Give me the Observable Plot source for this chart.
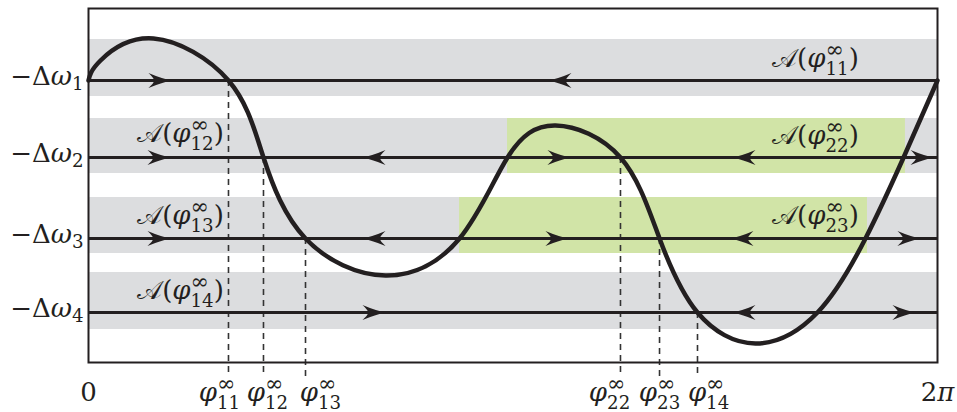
<!DOCTYPE html>
<html><head><meta charset="utf-8">
<script src="https://cdn.jsdelivr.net/npm/d3@7"></script>
<script src="https://cdn.jsdelivr.net/npm/@observablehq/plot@0.6"></script>
<style>
body{margin:0;background:#fff;}
svg text{font-family:"DejaVu Serif",serif;}
</style></head><body>
<div id="chart"></div>
<script>
const TAU = 2 * Math.PI;

// frequency levels (-Δω_k) and their axis labels
const levels = [2.82, 2.05, 1.24, 0.50];
const levelLabels = ["−Δω||1|", "−Δω||2|", "−Δω||3|", "−Δω||4|"];

// gray bands (basins) around each level
const bandLow = [2.66, 1.89, 1.09, 0.33];
const bandHigh = [3.23, 2.44, 1.65, 0.90];

// green bands (second basins)
const greenStart = [3.101, 2.746];
const greenEnd = [6.046, 5.765];
const greenLow = [1.89, 1.09];
const greenHigh = [2.44, 1.65];

// the coupling curve (extrema and level crossings)
const curvePhi = [0, 0.089, 0.481, 1.036, 1.295, 1.606, 2.198, 2.746, 3.101, 3.456, 3.937, 4.226, 4.507, 4.936, 5.395, 5.750, 6.032, 6.283];
const curveVal = [2.82, 3.02, 3.24, 2.82, 2.05, 1.24, 0.87, 1.24, 2.05, 2.37, 2.05, 1.24, 0.50, 0.19, 0.50, 1.24, 2.05, 2.82];

// arrowheads (tip positions)
const arrowRightPhi = [0.614, 0.607, 3.567, 6.254, 0.607, 3.552, 6.157, 2.198, 6.120];
const arrowRightLevel = [2.82, 2.05, 2.05, 2.05, 1.24, 1.24, 1.24, 0.50, 0.50];
const arrowLeftPhi = [3.404, 2.028, 4.766, 2.028, 4.751, 4.766];
const arrowLeftLevel = [2.82, 2.05, 2.05, 1.24, 1.24, 0.50];

// dashed drop lines at fixed points
const dashPhi = [1.036, 1.295, 1.606, 3.937, 4.226, 4.507];
const dashLevel = [2.82, 2.05, 1.24, 2.05, 1.24, 0.50];
const dashBottom = -0.15;

// x tick labels
const tickPhi = [0, 0.9695, 1.3247, 1.717, 3.856, 4.226, 4.589, TAU];
const tickLabels = ["0", "φ|∞|11|", "φ|∞|12|", "φ|∞|13|", "φ|∞|22|", "φ|∞|23|", "φ|∞|14|", "2π"];

// basin labels
const basinPhi = [5.380, 0.681, 0.681, 0.681, 5.380, 5.380];
const basinVal = [3.04, 2.29, 1.47, 0.72, 2.27, 1.47];
const basinText = ["𝒜(φ|∞|11|)", "𝒜(φ|∞|12|)", "𝒜(φ|∞|13|)", "𝒜(φ|∞|14|)", "𝒜(φ|∞|22|)", "𝒜(φ|∞|23|)"];

const ink = "#231f20";
const gray = "#dcdddf";
const green = "#d1e4a7";
const FS = 26;

const arrowRight = {draw(ctx) {
  ctx.moveTo(0, 0);
  ctx.quadraticCurveTo(-10, -2, -23, -7.5);
  ctx.quadraticCurveTo(-18, -3, -17, 0);
  ctx.quadraticCurveTo(-18, 3, -23, 7.5);
  ctx.quadraticCurveTo(-10, 2, 0, 0);
  ctx.closePath();
}};
const arrowLeft = {draw(ctx) {
  ctx.moveTo(0, 0);
  ctx.quadraticCurveTo(10, -2, 23, -7.5);
  ctx.quadraticCurveTo(18, -3, 17, 0);
  ctx.quadraticCurveTo(18, 3, 23, 7.5);
  ctx.quadraticCurveTo(10, 2, 0, 0);
  ctx.closePath();
}};

const levelMap = new Map(levels.map((d, i) => [d, levelLabels[i]]));
const tickMap = new Map(tickPhi.map((d, i) => [d, tickLabels[i]]));
const idx = a => a.map((_, i) => i);
const curveData = curvePhi.map((p, i) => ({p, v: curveVal[i]}));

const plot = Plot.plot({
  width: 957, height: 412,
  marginLeft: 88, marginRight: 20, marginTop: 8, marginBottom: 50,
  x: {domain: [0, TAU], label: null},
  y: {domain: [0, 3.54], label: null},
  marks: [
    Plot.rect(idx(levels), {x1: 0, x2: TAU, y1: i => bandLow[i], y2: i => bandHigh[i], fill: gray}),
    Plot.rect(idx(greenStart), {x1: i => greenStart[i], x2: i => greenEnd[i], y1: i => greenLow[i], y2: i => greenHigh[i], fill: green}),
    Plot.ruleX(idx(dashPhi), {x: i => dashPhi[i], y1: i => dashLevel[i], y2: dashBottom, stroke: "#333", strokeWidth: 1.6, strokeDasharray: "6,5"}),
    Plot.ruleY(idx(levels), {y: i => levels[i], x1: 0, x2: TAU, stroke: ink, strokeWidth: 3}),
    Plot.dot(idx(arrowRightPhi), {x: i => arrowRightPhi[i], y: i => arrowRightLevel[i], symbol: arrowRight, fill: ink, stroke: "none", r: 5}),
    Plot.dot(idx(arrowLeftPhi), {x: i => arrowLeftPhi[i], y: i => arrowLeftLevel[i], symbol: arrowLeft, fill: ink, stroke: "none", r: 5}),
    Plot.line(curveData, {x: "p", y: "v", curve: "natural", stroke: ink, strokeWidth: 4.5}),
    Plot.frame({stroke: ink, strokeWidth: 2}),
    Plot.text(idx(basinText), {x: i => basinPhi[i], y: i => basinVal[i], text: i => basinText[i], fontSize: FS, fill: ink, textAnchor: "middle", lineAnchor: "middle"}),
    Plot.axisY({ticks: levels, tickFormat: d => levelMap.get(d), tickSize: 0, tickPadding: 5, fontSize: FS, fill: ink, dy: -4}),
    Plot.axisX({ticks: tickPhi, tickFormat: d => tickMap.get(d), tickSize: 0, tickPadding: 20, fontSize: FS, fill: ink})
  ]
});

document.getElementById("chart").append(plot);

function appendRich(sel, str) {
  if (!str) return;
  str.split(/([\u03b1-\u03c9\u03d5]+)/).forEach(seg => {
    if (!seg) return;
    const t = sel.append("tspan").text(seg);
    if (/[\u03b1-\u03c9\u03d5]/.test(seg)) t.attr("font-style", "italic");
  });
}

function renderMath(el) {
  const s = el.textContent;
  if (!s) return;
  const F = parseFloat(getComputedStyle(el).fontSize) || FS;
  const parts = s.split("|");
  const sel = d3.select(el);
  sel.text(null);
  appendRich(sel, parts[0]);
  if (parts.length < 4) return;
  const sup = parts[1], sub = parts[2], post = parts[3];
  let supW = 0, subW = 0, shift = 0;
  if (sup) {
    const t = sel.append("tspan").attr("font-size", 0.85 * F).attr("dy", -0.38 * F).text(sup);
    supW = t.node().getComputedTextLength();
    shift = -0.38 * F;
  }
  if (sub) {
    const target = sup ? 0.3 * F : 0.2 * F;
    const t = sel.append("tspan").attr("font-size", 0.7 * F).attr("dx", sup ? -supW : 0).attr("dy", target - shift).text(sub);
    subW = t.node().getComputedTextLength();
    shift = target;
  }
  if (post) {
    const w = sel.append("tspan").attr("font-size", F).attr("dx", Math.max(0, supW - subW)).attr("dy", -shift);
    appendRich(w, post);
  }
}

d3.select(plot).selectAll("text").each(function() { renderMath(this); });
</script>
</body></html>
